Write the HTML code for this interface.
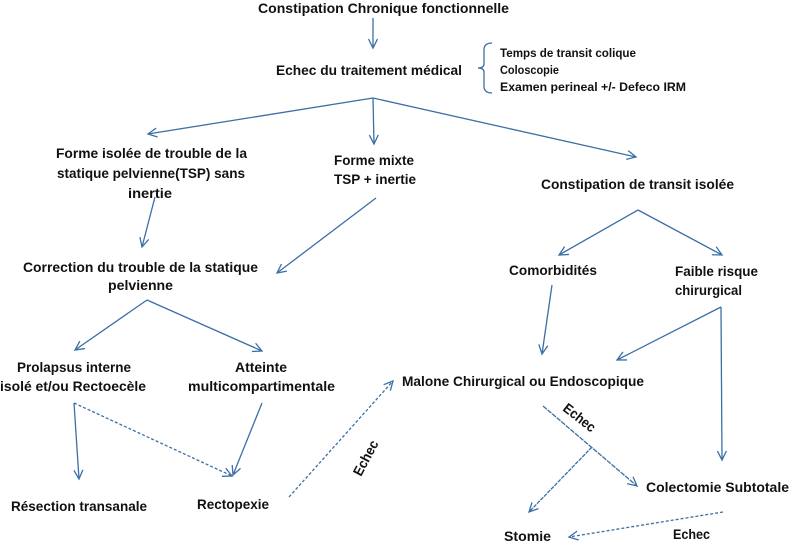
<!DOCTYPE html>
<html><head><meta charset="utf-8"><style>
html,body{margin:0;padding:0;background:#fff;width:789px;height:543px;overflow:hidden}
svg{display:block}
text{font-family:"Liberation Sans",sans-serif;font-weight:bold;font-size:14px;fill:#111}
.s{font-size:11.5px}
</style></head><body>
<svg width="789" height="543" viewBox="0 0 789 543" xmlns="http://www.w3.org/2000/svg">
<defs>
<marker id="a" markerWidth="12" markerHeight="12" refX="10" refY="5" orient="auto" markerUnits="userSpaceOnUse">
<path d="M1,0.5 L10,5 L1,9.5" fill="none" stroke="#3b6fa6" stroke-width="1.3"/>
</marker>
</defs>
<g stroke="#3b6fa6" stroke-width="1.3" fill="none" marker-end="url(#a)">
<line x1="373" y1="18" x2="373" y2="48"/>
<line x1="373" y1="98" x2="148" y2="134"/>
<line x1="373" y1="98" x2="374" y2="144"/>
<line x1="373" y1="98" x2="636" y2="157"/>
<line x1="155" y1="197" x2="142" y2="247"/>
<line x1="376" y1="198" x2="277" y2="273"/>
<line x1="147" y1="300" x2="75" y2="350"/>
<line x1="147" y1="300" x2="262" y2="351"/>
<line x1="638" y1="210" x2="559" y2="255"/>
<line x1="638" y1="210" x2="722" y2="255"/>
<line x1="552" y1="285" x2="542" y2="354"/>
<line x1="721" y1="307" x2="617" y2="360"/>
<line x1="721" y1="307" x2="722" y2="460"/>
<line x1="74" y1="403" x2="79" y2="479"/>
<line x1="74" y1="403" x2="232" y2="476" stroke-dasharray="3,2"/>
<line x1="262" y1="403" x2="233" y2="475"/>
<line x1="289" y1="497" x2="393" y2="381" stroke-dasharray="3,2"/>
<line x1="543" y1="406" x2="637" y2="486" stroke-dasharray="5,1"/>
<line x1="592" y1="447" x2="529" y2="512" stroke-dasharray="4,1"/>
<line x1="723" y1="512" x2="569" y2="537" stroke-dasharray="3,2"/>
</g>
<path d="M492,43 Q484,43 484,50 L484,64 Q484,68 478,68 Q484,68 484,72 L484,86 Q484,93 492,93" fill="none" stroke="#3b6fa6" stroke-width="1.3"/>
<text x="258" y="13" textLength="251" lengthAdjust="spacingAndGlyphs">Constipation Chronique fonctionnelle</text>
<text x="276" y="75" textLength="186" lengthAdjust="spacingAndGlyphs">Echec du traitement médical</text>
<text class="s" x="500" y="57" textLength="136" lengthAdjust="spacingAndGlyphs">Temps de transit colique</text>
<text class="s" x="500" y="74" textLength="59" lengthAdjust="spacingAndGlyphs">Coloscopie</text>
<text class="s" x="500" y="91" textLength="186" lengthAdjust="spacingAndGlyphs">Examen perineal +/- Defeco IRM</text>
<text x="56" y="158" textLength="191" lengthAdjust="spacingAndGlyphs">Forme isolée de trouble de la</text>
<text x="57" y="178" textLength="188" lengthAdjust="spacingAndGlyphs">statique pelvienne(TSP) sans</text>
<text x="128" y="198" textLength="44" lengthAdjust="spacingAndGlyphs">inertie</text>
<text x="334" y="165" textLength="80" lengthAdjust="spacingAndGlyphs">Forme mixte</text>
<text x="334" y="184" textLength="82" lengthAdjust="spacingAndGlyphs">TSP + inertie</text>
<text x="541" y="189" textLength="193" lengthAdjust="spacingAndGlyphs">Constipation de transit isolée</text>
<text x="23" y="272" textLength="235" lengthAdjust="spacingAndGlyphs">Correction du trouble de la statique</text>
<text x="108" y="290" textLength="65" lengthAdjust="spacingAndGlyphs">pelvienne</text>
<text x="509" y="275" textLength="88" lengthAdjust="spacingAndGlyphs">Comorbidités</text>
<text x="675" y="276" textLength="83" lengthAdjust="spacingAndGlyphs">Faible risque</text>
<text x="675" y="295" textLength="67" lengthAdjust="spacingAndGlyphs">chirurgical</text>
<text x="17" y="372" textLength="114" lengthAdjust="spacingAndGlyphs">Prolapsus interne</text>
<text x="0" y="391" textLength="146" lengthAdjust="spacingAndGlyphs">isolé et/ou Rectoecèle</text>
<text x="235" y="372" textLength="52" lengthAdjust="spacingAndGlyphs">Atteinte</text>
<text x="188" y="391" textLength="147" lengthAdjust="spacingAndGlyphs">multicompartimentale</text>
<text x="402" y="386" textLength="242" lengthAdjust="spacingAndGlyphs">Malone Chirurgical ou Endoscopique</text>
<text x="11" y="511" textLength="136" lengthAdjust="spacingAndGlyphs">Résection transanale</text>
<text x="197" y="509" textLength="72" lengthAdjust="spacingAndGlyphs">Rectopexie</text>
<text x="646" y="492" textLength="143" lengthAdjust="spacingAndGlyphs">Colectomie Subtotale</text>
<text x="504" y="541" textLength="47" lengthAdjust="spacingAndGlyphs">Stomie</text>
<text x="673" y="539" textLength="37" lengthAdjust="spacingAndGlyphs">Echec</text>
<text x="0" y="0" transform="translate(361,477) rotate(-62)" textLength="38" lengthAdjust="spacingAndGlyphs">Echec</text>
<text x="0" y="0" transform="translate(562,410) rotate(38)" textLength="37" lengthAdjust="spacingAndGlyphs">Echec</text>
</svg>
</body></html>
